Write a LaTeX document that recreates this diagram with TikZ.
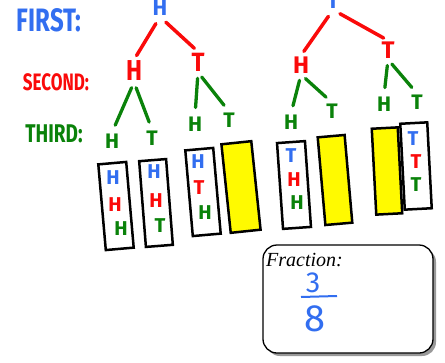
\documentclass[tikz,border=0pt]{standalone}
\usepackage{fontspec}
\setmainfont{Liberation Serif}
\newfontfamily\hand{Fira Sans}
\usetikzlibrary{shadows}
\definecolor{cb}{RGB}{50,110,240}
\definecolor{cr}{RGB}{250,10,10}
\definecolor{cg}{RGB}{10,130,10}
\definecolor{cy}{RGB}{255,250,0}
\begin{document}
\begin{tikzpicture}[x=1pt,y=-1pt,
  ltr/.style={inner sep=1pt,font=\hand\bfseries\fontsize{#1}{#1}\selectfont},
  lab/.style={inner sep=0pt,font=\hand\bfseries\fontsize{#1}{#1}\selectfont},
  redge/.style={draw=cr,line width=3.5pt,line cap=round,shorten <=8pt,shorten >=5pt},
  gedge/.style={draw=cg,line width=3.3pt,line cap=round,shorten <=6pt,shorten >=8pt},
  cbox/.style={draw=black,line width=2.5pt,minimum width=28pt,minimum height=86pt,inner sep=0pt},
  ybox/.style={cbox,fill=cy},
  frac/.style={draw=black,line width=1.3pt,rounded corners=14pt,fill=white,
    minimum width=170pt,minimum height=108pt,
    drop shadow={shadow xshift=3pt,shadow yshift=-3pt,fill=gray!80,opacity=1}}]
\useasboundingbox (0,0) rectangle (445,362);
\clip (0,0) rectangle (445,362);
% level labels
\node[lab=24,text=cb] (first) at (49,20) {\scalebox{1}[1.35]{FIRST:}};
\node[lab=17,text=cr] (second) at (56,82) {\scalebox{1}[1.4]{SECOND:}};
\node[lab=19,text=cg] (third) at (54,134) {\scalebox{1}[1.35]{THIRD:}};
% left tree
\node[ltr=22,text=cb] (rL) at (160,8) {H};
\node[ltr=24,text=cr] (rLH) at (134,71) {\scalebox{1}[1.2]{H}};
\node[ltr=24,text=cr] (rLT) at (198,62) {\scalebox{1}[1.1]{T}};
\node[ltr=21,text=cg] (LHH) at (112,141) {H};
\node[ltr=21,text=cg] (LHT) at (152,138) {T};
\node[ltr=21,text=cg] (LTH) at (195,124) {H};
\node[ltr=21,text=cg] (LTT) at (229,120) {T};
\draw[redge] (rL.south) -- (rLH.north);
\draw[redge] (rL.south) -- (rLT.north);
\draw[gedge] (rLH.south) -- (LHH.north);
\draw[gedge] (rLH.south) -- (LHT.north);
\draw[gedge] (rLT.south) -- (LTH.north);
\draw[gedge] (rLT.south) -- (LTT.north);
% right tree
\node[ltr=22,text=cb] (rR) at (333,1) {T};
\node[ltr=24,text=cr] (rRH) at (301,65) {H};
\node[ltr=24,text=cr] (rRT) at (388,50) {T};
\node[ltr=21,text=cg] (RHH) at (291,122) {H};
\node[ltr=21,text=cg] (RHT) at (332,111) {T};
\node[ltr=21,text=cg] (RTH) at (384,104) {H};
\node[ltr=21,text=cg] (RTT) at (417,102) {T};
\draw[redge] (rR.south) -- (rRH.north);
\draw[redge] (rR.south) -- (rRT.north);
\draw[gedge] (rRH.south) -- (RHH.north);
\draw[gedge] (rRH.south) -- (RHT.north);
\draw[gedge] (rRT.south) -- (RTH.north);
\draw[gedge] (rRT.south) -- (RTT.north);
% outcome boxes
\node[cbox,rotate=5] (b1) at (116,206) {};
\node[cbox,rotate=4.5,minimum width=27pt] (b2) at (156,203) {};
\node[cbox,rotate=5] (b3) at (203,192) {};
\node[ybox,rotate=6,minimum width=30pt,minimum height=89pt] (b4) at (241,187) {};
\node[cbox,rotate=4] (b5) at (294,185) {};
\node[ybox,rotate=5,minimum width=27pt,minimum height=88pt] (b6) at (335,180) {};
\node[ybox,rotate=3,minimum width=26pt] (b7) at (387,171) {};
\node[cbox,rotate=3,minimum width=27pt] (b8) at (416,166) {};
% box letters
\node[ltr=20,text=cb] (b1a) at (113,178) {H};
\node[ltr=20,text=cr] (b1b) at (115,205) {H};
\node[ltr=20,text=cg] (b1c) at (121,229) {H};
\node[ltr=20,text=cb] (b2a) at (154,172) {H};
\node[ltr=20,text=cr] (b2b) at (156,201) {H};
\node[ltr=20,text=cg] (b2c) at (160,226) {T};
\node[ltr=20,text=cb] (b3a) at (198,162) {H};
\node[ltr=20,text=cr] (b3b) at (199,188) {T};
\node[ltr=20,text=cg] (b3c) at (205,213) {H};
\node[ltr=20,text=cb] (b5a) at (291,156) {T};
\node[ltr=20,text=cr] (b5b) at (294,180) {H};
\node[ltr=20,text=cg] (b5c) at (297,203) {H};
\node[ltr=20,text=cb] (b8a) at (413,139) {T};
\node[ltr=20,text=cr] (b8b) at (416,162) {T};
\node[ltr=20,text=cg] (b8c) at (416,185) {T};
% fraction box
\node[frac] (fbox) at (348,299) {};
\node[anchor=west,inner sep=0pt,font=\itshape\fontsize{20}{20}\selectfont] (ftxt) at (266,260) {Fraction:};
\node[inner sep=0pt,text=cb,font=\hand\fontsize{29}{29}\selectfont] (num) at (313,283) {3};
\node[inner sep=0pt,text=cb,font=\hand\fontsize{38}{38}\selectfont] (den) at (315,319) {8};
\draw[cb,line width=2pt] (301,297) -- (337,296);
\end{tikzpicture}
\end{document}
